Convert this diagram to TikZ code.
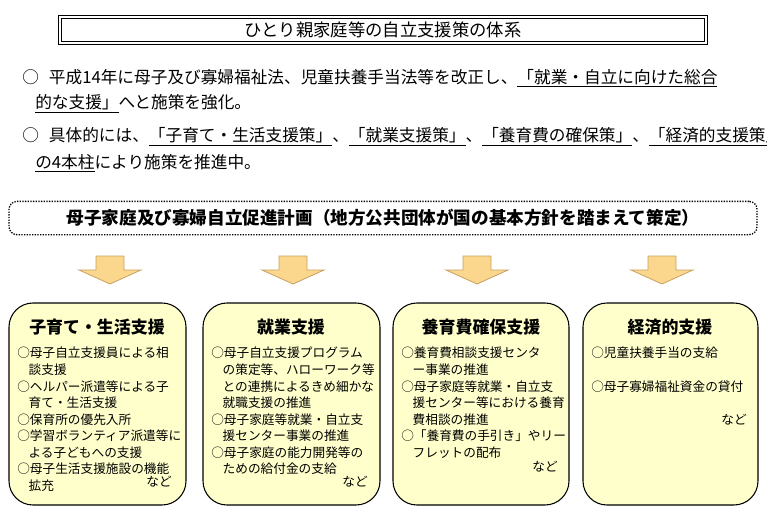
\documentclass[tikz,border=0pt]{standalone}
\usepackage{fontspec}
\setmainfont{Noto Sans CJK JP}
\usetikzlibrary{shapes.arrows}
\definecolor{boxfill}{HTML}{FFFFCC}
\definecolor{arrfill}{HTML}{FBD78E}
\definecolor{arrdraw}{HTML}{C8A060}
\tikzset{
  px/.style={x=0.75pt,y=-0.75pt},
  pillar/.style={draw=black,fill=boxfill,rounded corners=18pt,line width=0.8pt},
  ptitle/.style={font=\bfseries\fontsize{12.7}{14}\selectfont,anchor=center},
  pitems/.style={font=\fontsize{9.5}{12.4}\selectfont,align=left,anchor=north west,inner sep=0pt},
  nado/.style={font=\fontsize{9.5}{12}\selectfont,anchor=east,inner sep=0pt},
  lead/.style={font=\fontsize{12.5}{14}\selectfont,anchor=west,inner sep=0pt},
  darrow/.style={draw=arrdraw,fill=arrfill,line width=0.6pt}
}
\begin{document}
\begin{tikzpicture}[px]
\useasboundingbox (0,0) rectangle (767,515);
% title
\node[draw=black,line width=0.7pt,double,double distance=1.4pt,minimum width=484pt,minimum height=20pt,font=\fontsize{13}{15}\selectfont] (title) at (383,30) {ひとり親家庭等の自立支援策の体系};
% lead text
\node[lead] (l1) at (22,78) {○\hspace{0.6em}平成14年に母子及び寡婦福祉法、児童扶養手当法等を改正し、\underline{「就業・自立に向けた総合}};
\node[lead] (l2) at (35,104) {\underline{的な支援」}へと施策を強化。};
\node[lead] (l3) at (22,137) {○\hspace{0.6em}具体的には、\underline{「子育て・生活支援策」}、\underline{「就業支援策」}、\underline{「養育費の確保策」}、\underline{「経済的支援策」}};
\node[lead] (l4) at (35,163) {\underline{の4本柱}により施策を推進中。};
% plan box
\node[draw=black,densely dotted,line width=1pt,rounded corners=6pt,minimum width=561pt,minimum height=25pt,font=\bfseries\fontsize{13.2}{15}\selectfont] (plan) at (383,218) {母子家庭及び寡婦自立促進計画（地方公共団体が国の基本方針を踏まえて策定）};
% arrows
\foreach \cx/\nm in {110/a1,293/a2,477/a3,662/a4}{
  \draw[darrow] (\cx-14,256) -- (\cx+14,256) -- (\cx+14,270) -- (\cx+31,270) -- (\cx,284) -- (\cx-31,270) -- (\cx-14,270) -- cycle;
}
% pillars
\draw[pillar] (9,303) rectangle (186,505);
\draw[pillar] (203,303) rectangle (380,505);
\draw[pillar] (393,303) rectangle (569,505);
\draw[pillar] (583,303) rectangle (758,505);
\node[ptitle] (t1) at (97,327) {子育て・生活支援};
\node[ptitle] (t2) at (291,327) {就業支援};
\node[ptitle] (t3) at (481,327) {養育費確保支援};
\node[ptitle] (t4) at (670,327) {経済的支援};
\node[pitems] (i1) at (17,347) {○母子自立支援員による相\\\hspace{0.9em}談支援\\○ヘルパー派遣等による子\\\hspace{0.9em}育て・生活支援\\○保育所の優先入所\\○学習ボランティア派遣等に\\\hspace{0.9em}よる子どもへの支援\\○母子生活支援施設の機能\\\hspace{0.9em}拡充};
\node[nado] (n1) at (172,482) {など};
\node[pitems] (i2) at (211,347) {○母子自立支援プログラム\\\hspace{0.9em}の策定等、ハローワーク等\\\hspace{0.9em}との連携によるきめ細かな\\\hspace{0.9em}就職支援の推進\\○母子家庭等就業・自立支\\\hspace{0.9em}援センター事業の推進\\○母子家庭の能力開発等の\\\hspace{0.9em}ための給付金の支給};
\node[nado] (n2) at (368,482) {など};
\node[pitems] (i3) at (401,347) {○養育費相談支援センタ\\\hspace{0.9em}ー事業の推進\\○母子家庭等就業・自立支\\\hspace{0.9em}援センター等における養育\\\hspace{0.9em}費相談の推進\\○「養育費の手引き」やリー\\\hspace{0.9em}フレットの配布};
\node[nado] (n3) at (558,467) {など};
\node[pitems] (i4) at (591,347) {○児童扶養手当の支給\\[12.4pt]○母子寡婦福祉資金の貸付};
\node[nado] (n4) at (747,420) {など};
\end{tikzpicture}
\end{document}
